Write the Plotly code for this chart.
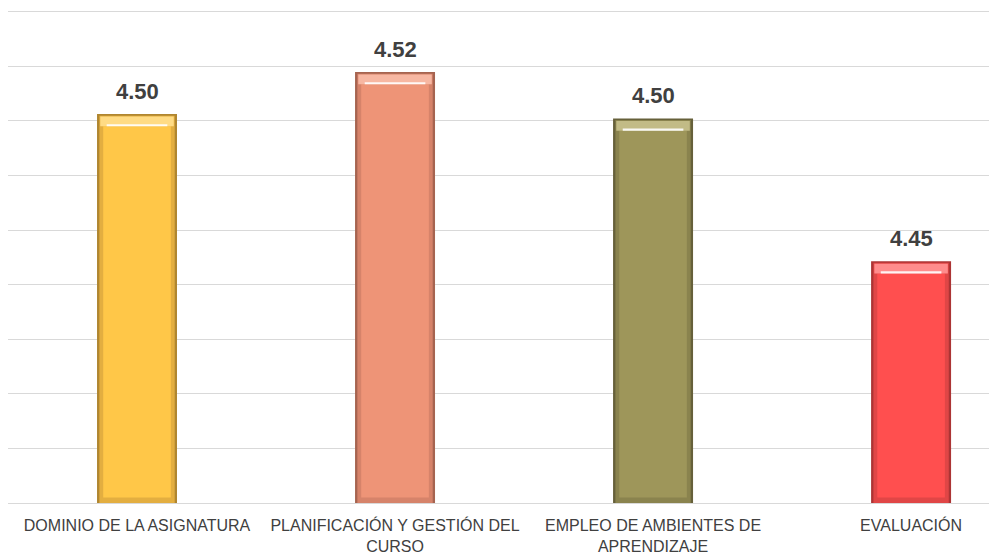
import plotly.graph_objects as go

categories = ["DOMINIO DE LA ASIGNATURA", "PLANIFICACIÓN Y GESTIÓN DEL<br>CURSO",
              "EMPLEO DE AMBIENTES DE<br>APRENDIZAJE", "EVALUACIÓN"]
values = [4.5025, 4.5179, 4.5009, 4.4486]
main_colors = ["#FFC748", "#EE9477", "#9E965A", "#FF4F4F"]
mid_colors = ["#E3AE40", "#D6836A", "#8A834E", "#E04646"]
edge_colors = ["#B08630", "#A66450", "#66603A", "#AC3434"]
cap_colors = ["#FFDB84", "#F7B7A2", "#C2BB86", "#FF8C8C"]

y_min, y_max, y_step = 4.36, 4.541, 0.02
cap_h = 0.0045
bottom_h = 0.002

fig = go.Figure()
bar_common = dict(hoverinfo="skip")
# outer edge
fig.add_trace(go.Bar(x=categories, y=values, width=0.31,
                     marker=dict(color=edge_colors, line=dict(width=0)), **bar_common))
# mid edge
fig.add_trace(go.Bar(x=categories, y=[v - 0.0006 for v in values], width=0.292,
                     marker=dict(color=mid_colors, line=dict(width=0)), **bar_common))
# body
fig.add_trace(go.Bar(x=categories, y=[v - cap_h - y_min - bottom_h for v in values],
                     base=[y_min + bottom_h] * len(values), width=0.262,
                     marker=dict(color=main_colors, line=dict(width=0)), **bar_common))
# top cap
fig.add_trace(go.Bar(x=categories, y=[cap_h - 0.0009] * len(values),
                     base=[v - cap_h for v in values], width=0.285,
                     marker=dict(color=cap_colors, line=dict(width=0)), **bar_common))
# highlight stripe
fig.add_trace(go.Bar(x=categories, y=[0.0008] * len(values),
                     base=[v - cap_h for v in values], width=0.235,
                     marker=dict(color="rgba(255,255,255,0.9)", line=dict(width=0)), **bar_common))

for c, v in zip(categories, values):
    fig.add_annotation(x=c, y=v, text=f"{v:.2f}", showarrow=False,
                       yanchor="middle", yshift=23,
                       font=dict(family="Liberation Sans, Arial, sans-serif", size=22,
                                 color="#404040", weight="bold"))

fig.update_layout(
    width=989, height=549,
    margin=dict(l=0, r=0, t=1, b=54),
    paper_bgcolor="white", plot_bgcolor="white",
    barmode="overlay", showlegend=False,
    xaxis=dict(range=[-0.5, 3.333], showgrid=False, showline=True,
               linecolor="#D9D9D9", linewidth=1, ticks="", ticklabelstandoff=8,
               tickfont=dict(family="Liberation Sans, Arial, sans-serif",
                             size=16, color="#404040")),
    yaxis=dict(range=[y_min, y_max], dtick=y_step, tick0=y_min, showgrid=True,
               gridcolor="#D9D9D9", gridwidth=1, showticklabels=False,
               zeroline=False, showline=False),
)

fig.write_html("out.html")
